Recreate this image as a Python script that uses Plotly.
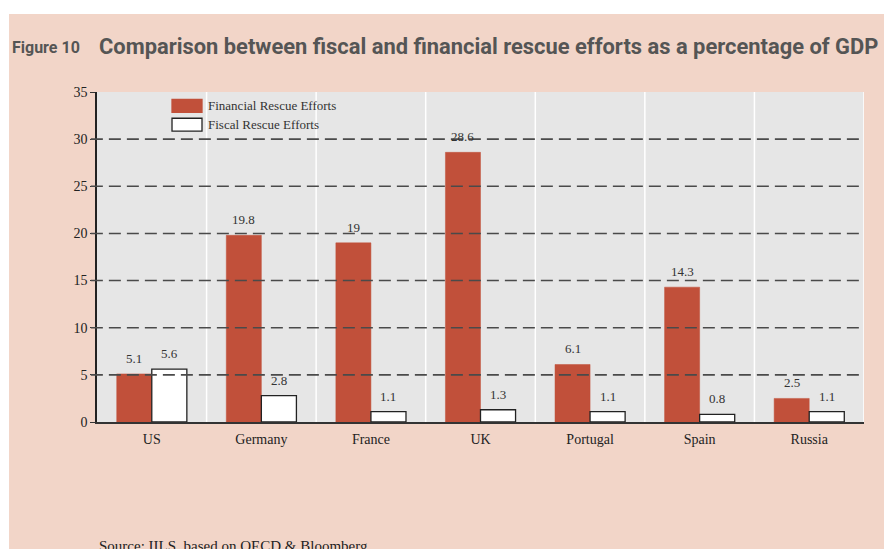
import plotly.graph_objects as go

# Rescue efforts as % of GDP
countries = ["US", "Germany", "France", "UK", "Portugal", "Spain", "Russia"]
financial = [5.1, 19.8, 19, 28.6, 6.1, 14.3, 2.5]
fiscal = [5.6, 2.8, 1.1, 1.3, 1.1, 0.8, 1.1]
y_ticks = [0, 5, 10, 15, 20, 25, 30, 35]
series_names = ["Financial Rescue Efforts", "Fiscal Rescue Efforts"]

PEACH = "#f2d5c8"
PLOT_BG = "#e6e6e6"
RED = "#c1503a"
SERIF = "Liberation Serif, DejaVu Serif, serif"
TITLE_FONT = "Roboto, Liberation Sans Narrow, sans-serif"
BAR_GAP = 0.36

fig = go.Figure()
fig.add_trace(go.Bar(
    name=series_names[0], x=countries, y=financial,
    marker=dict(color=RED, line=dict(color=RED, width=0.5)),
))
fig.add_trace(go.Bar(
    name=series_names[1], x=countries, y=fiscal,
    marker=dict(color="white", line=dict(color="#222222", width=1.3)),
))

shapes = []
# dashed horizontal guides (all ticks except the baseline and top)
for v in y_ticks[1:-1]:
    shapes.append(dict(type="line", xref="paper", yref="y", x0=-0.008, x1=1, y0=v, y1=v,
                       line=dict(color="#4a4a4a", width=1.6, dash="12px,6px"), layer="above"))
# white separators between country groups
for i in range(len(countries)):
    shapes.append(dict(type="line", xref="x", yref="paper", x0=i + 0.5, x1=i + 0.5, y0=0, y1=1,
                       line=dict(color="white", width=1.5), layer="below"))
# white page margins at top and left
shapes.append(dict(type="rect", xref="paper", yref="paper", x0=-0.2, x1=1.1, y0=1.2364, y1=1.35,
                   line=dict(width=0), fillcolor="white"))
shapes.append(dict(type="rect", xref="paper", yref="paper", x0=-0.2, x1=-0.1147, y0=-0.5, y1=1.35,
                   line=dict(width=0), fillcolor="white"))

# legend: wide swatches with labels, placed inside the plot's top-left
legend_fill = [RED, "white"]
legend_line = [RED, "#222222"]
legend_rows = [0.958, 0.901]  # vertical centres in paper units
for fill, edge, yc in zip(legend_fill, legend_line, legend_rows):
    shapes.append(dict(type="rect", xref="paper", yref="paper", x0=0.0978, x1=0.1369,
                       y0=yc - 0.0195, y1=yc + 0.0195, fillcolor=fill,
                       line=dict(color=edge, width=1.3), layer="above"))

annotations = [
    dict(text="<b>Figure 10</b>", xref="paper", yref="paper", x=-0.1134, y=1.134,
         xanchor="left", yanchor="middle", showarrow=False,
         font=dict(family=TITLE_FONT, size=16, color="#555555")),
    dict(text="<b>Comparison between fiscal and financial rescue efforts as a percentage of GDP</b>",
         xref="paper", yref="paper", x=0.0, y=1.137, xanchor="left", yanchor="middle",
         showarrow=False, font=dict(family=TITLE_FONT, size=21.9, color="#555555")),
    dict(text="Source: IILS, based on OECD &amp; Bloomberg", xref="paper", yref="paper",
         x=0.0, y=-0.345, xanchor="left", yanchor="top", showarrow=False,
         font=dict(family=SERIF, size=15, color="#222222")),
]
for name, yc in zip(series_names, legend_rows):
    annotations.append(dict(text=name, xref="paper", yref="paper", x=0.1421, y=yc,
                            xanchor="left", yanchor="middle", showarrow=False,
                            font=dict(family=SERIF, size=13, color="#333333")))

# value labels above each bar; bars sit half a bar-width either side of the category centre
plot_w = 884 - 97 - 20
bar_w = plot_w / len(countries) * (1 - BAR_GAP) / 2
for values, shift in ((financial, -bar_w / 2), (fiscal, bar_w / 2)):
    for c, v in zip(countries, values):
        annotations.append(dict(text=f"{v:g}", x=c, y=v, xref="x", yref="y",
                                xshift=shift, yshift=6, xanchor="center", yanchor="bottom",
                                showarrow=False,
                                font=dict(family=SERIF, size=13, color="#333333")))

fig.update_layout(
    width=884, height=549,
    margin=dict(l=97, r=20, t=92, b=127),
    paper_bgcolor=PEACH, plot_bgcolor=PLOT_BG,
    barmode="group", bargap=BAR_GAP, bargroupgap=0,
    showlegend=False,
    shapes=shapes, annotations=annotations,
    xaxis=dict(showgrid=False, showline=True, linecolor="#333333", linewidth=1.5,
               ticks="", ticklabelstandoff=3,
               tickfont=dict(family=SERIF, size=14, color="#222222"),
               range=[-0.5, 6.5]),
    yaxis=dict(range=[0, 35], tickvals=y_ticks, showgrid=False, zeroline=False,
               showline=True, linecolor="#222222", linewidth=1.5,
               ticks="outside", ticklen=5, tickcolor="#333333",
               tickfont=dict(family=SERIF, size=14, color="#222222")),
)

fig.write_html("out.html")
